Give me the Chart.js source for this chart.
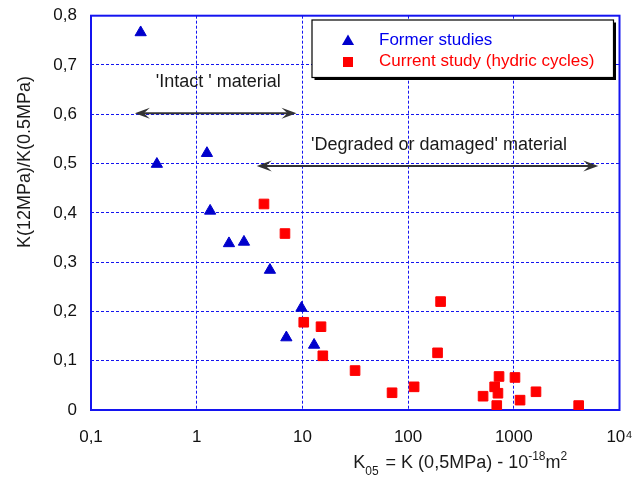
<!DOCTYPE html>
<html lang="en">
  <head>
    <meta charset="UTF-8" />
    <title>K(12MPa)/K(0.5MPa) vs K05</title>
    <script src="https://cdn.jsdelivr.net/npm/chart.js@4.4.1/dist/chart.umd.min.js"></script>
    <style>
      html, body { margin: 0; padding: 0; background: #fff; }
      .chart-container { width: 644px; height: 479px; }
    </style>
  </head>
  <body>
    <div class="chart-container"><canvas id="permChart"></canvas></div>

    <script>
      // Former studies (blue triangles)
      const formerX = [0.295, 0.42, 1.25, 1.34, 2.02, 2.8, 4.93, 9.8, 7.05, 12.9];
      const formerY = [0.766, 0.499, 0.521, 0.404, 0.338, 0.341, 0.284, 0.207, 0.147, 0.132];

      // Current study, hydric cycles (red squares)
      const currentX = [4.33, 6.84, 10.3, 15.0, 15.6, 31.5, 70.5, 114, 190, 203, 512, 659, 708, 690, 725, 1026, 1146, 1622, 4110];
      const currentY = [0.418, 0.358, 0.178, 0.169, 0.110, 0.080, 0.035, 0.047, 0.116, 0.220, 0.028, 0.047, 0.034, 0.009, 0.068, 0.066, 0.020, 0.037, 0.009];

      const xTickValues = [0.1, 1, 10, 100, 1000, 10000];
      const xTickLabels = ["0,1", "1", "10", "100", "1000", "10\u2074"];

      // annotation arrows: [xFrom, xTo, y]
      const intactArrow = [0.26, 8.8, 0.602];
      const degradedArrow = [3.7, 6300, 0.495];
      const intactLabel = ["'Intact ' material", 1.6, 0.655];
      const degradedLabel = ["'Degraded or damaged' material", 196, 0.527];

      const FONT = "'Liberation Sans', Arial, sans-serif";
      const BLUE = "#0000cc";
      const GRID = "#1414f0";

      const toPoints = (xs, ys) => xs.map((x, i) => ({ x: x, y: ys[i] }));

      function drawTriangle(ctx, x, y, r) {
        ctx.beginPath();
        ctx.moveTo(x, y - r);
        ctx.lineTo(x + r * 0.866, y + r / 2);
        ctx.lineTo(x - r * 0.866, y + r / 2);
        ctx.closePath();
        ctx.fill();
      }

      function arrowHead(ctx, x, y, dir) {
        ctx.beginPath();
        ctx.moveTo(x, y);
        ctx.lineTo(x + dir * 15, y - 5.5);
        ctx.lineTo(x + dir * 9, y);
        ctx.lineTo(x + dir * 15, y + 5.5);
        ctx.closePath();
        ctx.fill();
      }

      const decorations = {
        id: "decorations",
        beforeDatasetsDraw(chart) {
          const { ctx, chartArea: a } = chart;
          ctx.save();
          ctx.strokeStyle = GRID;
          ctx.lineWidth = 2;
          ctx.strokeRect(a.left, a.top, a.right - a.left, a.bottom - a.top);
          ctx.restore();
        },
        afterDraw(chart) {
          const { ctx, chartArea: a } = chart;
          const sx = chart.scales.x, sy = chart.scales.y;
          ctx.save();

          // arrows
          ctx.strokeStyle = "#333";
          ctx.fillStyle = "#333";
          ctx.lineWidth = 2;
          [intactArrow, degradedArrow].forEach(([x1, x2, yv]) => {
            const p1 = sx.getPixelForValue(x1), p2 = sx.getPixelForValue(x2);
            const py = sy.getPixelForValue(yv);
            ctx.beginPath();
            ctx.moveTo(p1 + 8, py);
            ctx.lineTo(p2 - 8, py);
            ctx.stroke();
            arrowHead(ctx, p1, py, 1);
            arrowHead(ctx, p2, py, -1);
          });

          // annotation labels
          ctx.fillStyle = "#1a1a1a";
          ctx.font = "18px " + FONT;
          ctx.textAlign = "center";
          ctx.textBaseline = "alphabetic";
          [intactLabel, degradedLabel].forEach(([t, xv, yv]) => {
            ctx.fillText(t, sx.getPixelForValue(xv), sy.getPixelForValue(yv));
          });

          // legend box
          const bx = a.right - 307.5, by = a.top + 4.3, bw = 301.5, bh = 57.5;
          ctx.fillStyle = "#000";
          ctx.fillRect(bx + 2.5, by + 2.5, bw, bh);
          ctx.fillStyle = "#fff";
          ctx.fillRect(bx, by, bw, bh);
          ctx.strokeStyle = "#000";
          ctx.lineWidth = 1.2;
          ctx.strokeRect(bx, by, bw, bh);

          const ds = chart.data.datasets;
          ctx.textAlign = "left";
          ctx.textBaseline = "middle";
          ctx.font = "17px " + FONT;
          ctx.fillStyle = ds[0].backgroundColor;
          drawTriangle(ctx, bx + 36, by + 21.5, 7);
          ctx.fillStyle = "#0000ee";
          ctx.fillText(ds[0].label, bx + 67, by + 20.5);
          ctx.fillStyle = ds[1].backgroundColor;
          ctx.fillRect(bx + 31, by + 37, 10, 10);
          ctx.fillStyle = "#ff0000";
          ctx.fillText(ds[1].label, bx + 67, by + 41.5);

          // y axis title
          ctx.fillStyle = "#1a1a1a";
          ctx.font = "18px " + FONT;
          ctx.save();
          ctx.translate(25, a.top + (a.bottom - a.top) * 0.589);
          ctx.rotate(-Math.PI / 2);
          ctx.textAlign = "left";
          ctx.textBaseline = "middle";
          ctx.fillText("K(12MPa)/K(0.5MPa)", 0, 0);
          ctx.restore();

          // x axis title with sub/superscripts
          const parts = [
            ["K", 0], ["05", 1], [" = K (0,5MPa) - 10", 0], ["-18", -1], ["m", 0], ["2", -1],
          ];
          let x = (a.left + a.right) / 2 - 2;
          const base = a.bottom + 58;
          ctx.textAlign = "left";
          ctx.textBaseline = "alphabetic";
          parts.forEach(([t, kind]) => {
            ctx.font = (kind === 0 ? "18px " : "12px ") + FONT;
            const dy = kind === 1 ? 7 : kind === -1 ? -8 : 0;
            ctx.fillText(t, x, base + dy);
            x += ctx.measureText(t).width + (kind === 1 ? 2 : 0);
          });

          ctx.restore();
        },
      };

      const ctx = document.getElementById("permChart").getContext("2d");

      const chart = new Chart(ctx, {
        type: "scatter",
        data: {
          datasets: [
            {
              label: "Former studies",
              data: toPoints(formerX, formerY),
              pointStyle: "triangle",
              radius: 6.5,
              backgroundColor: BLUE,
              borderColor: BLUE,
              borderWidth: 1,
            },
            {
              label: "Current study (hydric cycles)",
              data: toPoints(currentX, currentY),
              pointStyle: "rect",
              radius: 6.8,
              backgroundColor: "#ff0000",
              borderColor: "#ff0000",
              borderWidth: 1,
            },
          ],
        },
        options: {
          responsive: true,
          maintainAspectRatio: false,
          animation: false,
          layout: { padding: { top: 15.7, right: 24.5, left: 0, bottom: 0 } },
          plugins: {
            legend: { display: false },
            tooltip: { enabled: false },
          },
          scales: {
            x: {
              type: "logarithmic",
              min: 0.1,
              max: 10000,
              afterBuildTicks: (scale) => {
                scale.ticks = xTickValues.map((v) => ({ value: v }));
              },
              afterFit: (scale) => {
                scale.height = 69;
                scale.paddingLeft = 0;
                scale.paddingRight = 0;
              },
              ticks: {
                padding: 17,
                color: "#111",
                font: { family: FONT, size: 17 },
                callback: (v) => xTickLabels[xTickValues.indexOf(v)] || "",
              },
              grid: { color: GRID, lineWidth: 1, drawTicks: false },
              border: { display: false, dash: [3, 2] },
            },
            y: {
              min: 0,
              max: 0.8,
              afterFit: (scale) => {
                scale.width = 91;
                scale.paddingTop = 0;
                scale.paddingBottom = 0;
              },
              ticks: {
                stepSize: 0.1,
                padding: 14,
                color: "#111",
                font: { family: FONT, size: 17 },
                callback: (v) => (v === 0 ? "0" : v.toFixed(1).replace(".", ",")),
              },
              grid: { color: GRID, lineWidth: 1, drawTicks: false },
              border: { display: false, dash: [3, 2] },
            },
          },
        },
        plugins: [decorations],
      });
    </script>
  </body>
</html>
